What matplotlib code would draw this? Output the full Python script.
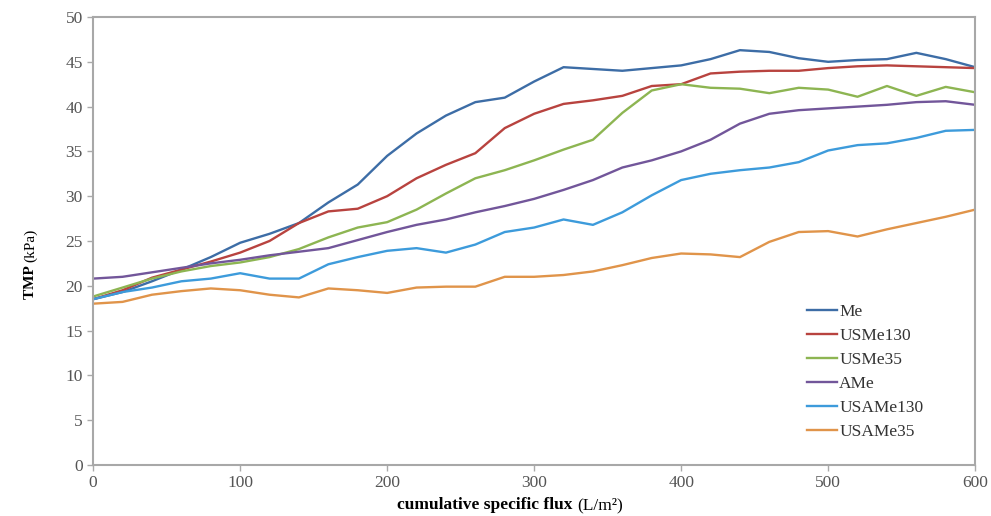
import matplotlib
matplotlib.use("Agg")
import matplotlib.pyplot as plt
import numpy as np

plt.rcParams["font.family"] = ["Liberation Serif", "DejaVu Serif"]

# cumulative specific flux (L/m2)
flux = np.arange(0, 601, 20)

# TMP (kPa)
me = [18.5, 19.3, 20.5, 21.8, 23.2, 24.8, 25.8, 27.0, 29.3, 31.3, 34.5,
      37.0, 39.0, 40.5, 41.0, 42.8, 44.4, 44.2, 44.0, 44.3, 44.6,
      45.3, 46.3, 46.1, 45.4, 45.0, 45.2, 45.3, 46.0, 45.3, 44.4]
usme130 = [18.5, 19.5, 20.9, 21.8, 22.7, 23.7, 25.0, 27.0, 28.3, 28.6, 30.0,
           32.0, 33.5, 34.8, 37.6, 39.2, 40.3, 40.7, 41.2, 42.3, 42.5,
           43.7, 43.9, 44.0, 44.0, 44.3, 44.5, 44.6, 44.5, 44.4, 44.3]
usme35 = [18.8, 19.8, 20.8, 21.6, 22.2, 22.6, 23.2, 24.1, 25.4, 26.5, 27.1,
          28.5, 30.3, 32.0, 32.9, 34.0, 35.2, 36.3, 39.3, 41.8, 42.5,
          42.1, 42.0, 41.5, 42.1, 41.9, 41.1, 42.3, 41.2, 42.2, 41.6]
ame = [20.8, 21.0, 21.5, 22.0, 22.5, 22.9, 23.4, 23.8, 24.2, 25.1, 26.0,
       26.8, 27.4, 28.2, 28.9, 29.7, 30.7, 31.8, 33.2, 34.0, 35.0,
       36.3, 38.1, 39.2, 39.6, 39.8, 40.0, 40.2, 40.5, 40.6, 40.2]
usame130 = [18.5, 19.3, 19.8, 20.5, 20.8, 21.4, 20.8, 20.8, 22.4, 23.2, 23.9,
            24.2, 23.7, 24.6, 26.0, 26.5, 27.4, 26.8, 28.2, 30.1, 31.8,
            32.5, 32.9, 33.2, 33.8, 35.1, 35.7, 35.9, 36.5, 37.3, 37.4]
usame35 = [18.0, 18.2, 19.0, 19.4, 19.7, 19.5, 19.0, 18.7, 19.7, 19.5, 19.2,
           19.8, 19.9, 19.9, 21.0, 21.0, 21.2, 21.6, 22.3, 23.1, 23.6,
           23.5, 23.2, 24.9, 26.0, 26.1, 25.5, 26.3, 27.0, 27.7, 28.5]

labels = ["Me", "USMe130", "USMe35", "AMe", "USAMe130", "USAMe35"]
series = [me, usme130, usme35, ame, usame130, usame35]
colors = ["#3D6DA6", "#B8433F", "#8DB552", "#72569A", "#3D9BDB", "#E0944A"]

fig = plt.figure(figsize=(9.91, 5.16), dpi=100)
ax = fig.add_axes([0.094, 0.099, 0.89, 0.868])

for y, lab, c in zip(series, labels, colors):
    ax.plot(flux, y, color=c, lw=1.7, label=lab)

ax.set_xlim(0, 600)
ax.set_ylim(0, 50)
ax.set_xticks(range(0, 601, 100))
ax.set_yticks(range(0, 51, 5))
ax.tick_params(direction="out", length=4, width=1, color="#aaaaaa",
               labelsize=12.5, labelcolor="#555555")
for s in ax.spines.values():
    s.set_color("#a8a8a8")
    s.set_linewidth(1.5)

# axis labels: bold part + normal part
ax.text(0.549, -0.09, "cumulative specific flux ", transform=ax.transAxes,
        ha="right", va="center", fontsize=12.5, fontweight="bold")
ax.text(0.549, -0.09, "(L/m²)", transform=ax.transAxes,
        ha="left", va="center", fontsize=12.5)
ax.text(-0.071, 0.453, "TMP ", transform=ax.transAxes, rotation=90,
        ha="center", va="top", fontsize=11, fontweight="bold")
ax.text(-0.071, 0.453, "(kPa)", transform=ax.transAxes, rotation=90,
        ha="center", va="bottom", fontsize=11)

ax.legend(loc="lower right", bbox_to_anchor=(0.959, 0.02), frameon=False,
          fontsize=12.5, handlelength=1.75, handletextpad=0.1,
          labelspacing=0.46, labelcolor="#333333")

fig.savefig("out.png", dpi=100)
